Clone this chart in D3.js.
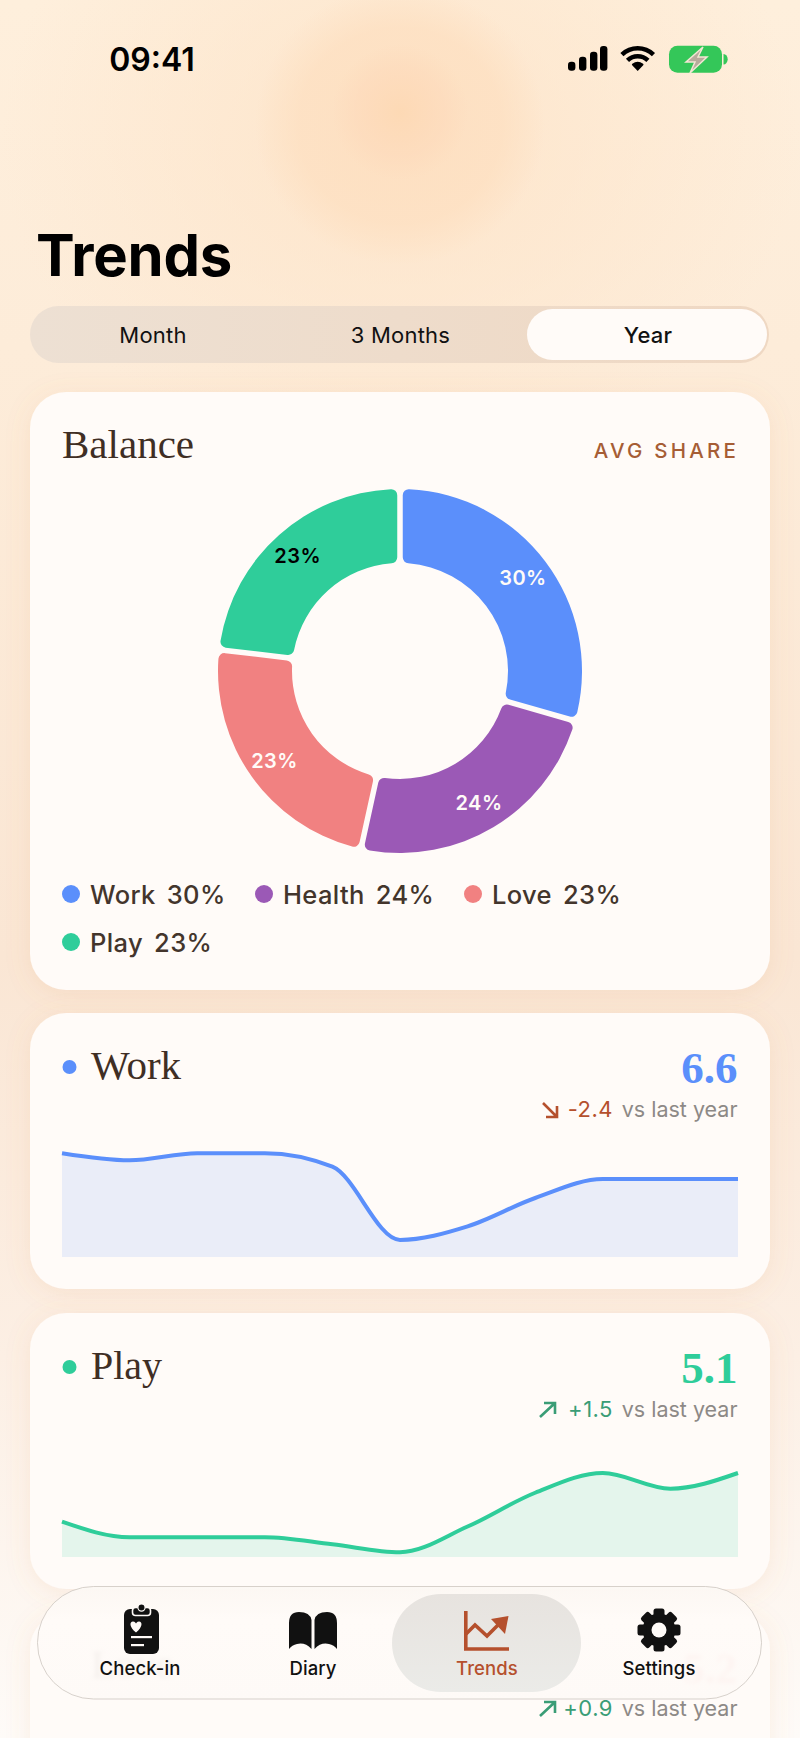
<!DOCTYPE html>
<html><head><meta charset="utf-8">
<script src="https://cdn.jsdelivr.net/npm/d3@7/dist/d3.min.js"></script>
<style>
html,body{margin:0;padding:0;background:#fdf3e8;overflow:hidden}
svg{display:block}
text{font-family:Inter,"Noto Sans",sans-serif}
.serif{font-family:"Liberation Serif",serif}
</style></head><body>
<svg id="app" width="800" height="1738" viewBox="0 0 800 1738"></svg>
<script>
// ---------- data ----------
const shareCategories = ["Work","Health","Love","Play"];
const shareValues = [29.5,24,23.4,23.1];
const shareLabels = ["30%","24%","23%","23%"];
const shareColors = ["#5b8ffb","#9b59b6","#f18181","#2fcd9a"];
const shareLabelColors = ["#fffbf8","#fffbf8","#fffbf8","#000000"];
const rangeTabs = ["Month","3 Months","Year"];
const navLabels = ["Check-in","Diary","Trends","Settings"];
const workSeries = [8.8,8.2,8.8,8.8,7.65,1.45,2.6,5.0,6.6,6.6,6.6];
const playSeries = [2.15,1.2,1.2,1.2,0.77,0.29,1.85,3.9,5.1,4.15,5.1];
const workValue = "6.6", workDelta = "-2.4";
const playValue = "5.1", playDelta = "+1.5";
const loveValue = "5.2", loveDelta = "+0.9";
const deltaSuffix = "vs last year";

const svg = d3.select("#app");
const defs = svg.append("defs");

// ---------- background ----------
const vg = defs.append("linearGradient").attr("id","bgV").attr("x1",0).attr("x2",0).attr("y1",0).attr("y2",1);
[[0,"#feefdc"],[.2,"#fdecd9"],[.55,"#fae6d4"],[.78,"#fcefe4"],[1,"#fefbf8"]].forEach(d=>vg.append("stop").attr("offset",d[0]).attr("stop-color",d[1]));
svg.append("rect").attr("width",800).attr("height",1738).attr("fill","url(#bgV)");
function blob(id,stops,cx,cy,rx,ry){
  const g = defs.append("radialGradient").attr("id",id);
  stops.forEach(d=>g.append("stop").attr("offset",d[0]).attr("stop-color",d[1]).attr("stop-opacity",d[2]));
  svg.append("ellipse").attr("cx",cx).attr("cy",cy).attr("rx",rx).attr("ry",ry).attr("fill",`url(#${id})`);
}
blob("blobWide",[[0,"#fde4c9",.9],[1,"#fde4c9",0]],400,140,400,330);
blob("blobMid",[[0,"#fddfc0",.85],[.7,"#fddfc0",.7],[1,"#fddfc0",0]],400,125,145,140);
blob("blobCore",[[0,"#fdd9b4",.95],[.65,"#fddabb",.6],[1,"#fddabb",0]],400,112,68,68);

const shadow = defs.append("filter").attr("id","cardShadow").attr("x","-10%").attr("y","-10%").attr("width","120%").attr("height","120%");
shadow.append("feDropShadow").attr("dx",0).attr("dy",4).attr("stdDeviation",12).attr("flood-color","#d9905a").attr("flood-opacity",.13);
const blur = defs.append("filter").attr("id","ghost").attr("x","-20%").attr("y","-20%").attr("width","140%").attr("height","140%");
blur.append("feGaussianBlur").attr("stdDeviation",2.2);

// ---------- status bar ----------
const status = svg.append("g");
status.append("text").attr("x",152).attr("y",71).attr("text-anchor","middle").attr("font-size",32).attr("font-weight",600).attr("fill","#000").text("09:41");
[[568,61.7],[579,56.7],[590,51.7],[600,46]].forEach(d=>status.append("rect").attr("x",d[0]).attr("y",d[1]).attr("width",7.4).attr("height",70.7-d[1]).attr("rx",3.2).attr("fill","#000"));
const wifi = d3.arc().startAngle(-Math.PI/4.1).endAngle(Math.PI/4.1);
[[12.5,17],[20.5,25]].forEach(r=>status.append("path").attr("transform","translate(637.7,71)").attr("d",wifi({innerRadius:r[0],outerRadius:r[1]})).attr("fill","#000"));
status.append("path").attr("transform","translate(637.7,71)").attr("d",d3.arc().startAngle(-Math.PI/4.1).endAngle(Math.PI/4.1).cornerRadius(1)({innerRadius:0,outerRadius:9})).attr("fill","#000");
status.append("rect").attr("x",669).attr("y",45.7).attr("width",53).attr("height",27).attr("rx",8.5).attr("fill","#34c759");
status.append("path").attr("d","M723.5 54 a4 5 0 0 1 0 10.5z").attr("fill","#34c759");
status.append("path").attr("d","M703 47 L686 62 L695 62 L690 73 L707 57 L698 57 Z").attr("fill","#b8ab9c").attr("stroke","#f3e6d4").attr("stroke-width",1.5);

// ---------- title and tabs ----------
svg.append("text").attr("x",36).attr("y",276).attr("font-size",58).attr("font-weight",700).attr("letter-spacing",-.2).attr("fill","#000").text("Trends");
const tabsG = defs.append("linearGradient").attr("id","tabs");
tabsG.append("stop").attr("offset",0).attr("stop-color","#ede0d3");
tabsG.append("stop").attr("offset",1).attr("stop-color","#efd8c3");
svg.append("rect").attr("x",30).attr("y",306).attr("width",739).attr("height",57).attr("rx",28.5).attr("fill","url(#tabs)");
svg.append("rect").attr("x",527).attr("y",309).attr("width",240).attr("height",51).attr("rx",25.5).attr("fill","#fffbf8");
const tabCx = d3.scalePoint().domain(rangeTabs).range([153,648]);
svg.selectAll(".tab").data(rangeTabs).join("text").attr("class","tab").attr("x",d=>tabCx(d)).attr("y",343).attr("text-anchor","middle").attr("font-size",22).attr("font-weight",d=>d==="Year"?500:400).attr("letter-spacing",.2).attr("fill","#111").text(d=>d);

// ---------- cards ----------
const cardTops = [[392,598],[1013,276],[1313,276],[1613,276]];
svg.selectAll(".card").data(cardTops).join("rect").attr("class","card").attr("x",30).attr("width",740).attr("y",d=>d[0]).attr("height",d=>d[1]).attr("rx",36).attr("fill","#fffbf8").attr("filter","url(#cardShadow)");

// ---------- balance ----------
svg.append("text").attr("class","serif").attr("x",62).attr("y",458).attr("font-size",41).attr("fill","#3f2e24").text("Balance");
svg.append("text").attr("x",739).attr("y",458).attr("text-anchor","end").attr("font-size",20.5).attr("font-weight",500).attr("letter-spacing",3.2).attr("fill","#a65d35").text("AVG SHARE");

const pie = d3.pie().sort(null).padAngle(.026)(shareValues);
const arc = d3.arc().innerRadius(108).outerRadius(182).cornerRadius(6);
const labelArc = d3.arc().innerRadius(154).outerRadius(154);
const donut = svg.append("g").attr("transform","translate(400,671)");
donut.selectAll("path").data(pie).join("path").attr("d",arc).attr("fill",(d,i)=>shareColors[i]);
donut.selectAll("text").data(pie).join("text").attr("transform",d=>`translate(${labelArc.centroid(d)})`).attr("dy","0.36em").attr("text-anchor","middle").attr("font-size",20).attr("font-weight",600).attr("letter-spacing",.5).attr("fill",(d,i)=>shareLabelColors[i]).text((d,i)=>shareLabels[i]);

const legendPos = [[71,894],[264,894],[473,894],[71,942]];
const legend = svg.selectAll(".lg").data(shareCategories).join("g").attr("class","lg").attr("transform",(d,i)=>`translate(${legendPos[i]})`);
legend.append("circle").attr("r",9).attr("fill",(d,i)=>shareColors[i]);
legend.append("text").attr("x",19).attr("y",9.5).attr("font-size",25.5).attr("font-weight",450).attr("word-spacing",4).attr("letter-spacing",.35).attr("fill","#43352c").text((d,i)=>`${d} ${shareLabels[i]}`);

// ---------- trend cards ----------
const x = d3.scaleLinear().domain([0,workSeries.length-1]).range([62,738]);
function trendCard(o){
  const g = svg.append("g");
  g.append("circle").attr("cx",69.5).attr("cy",o.top+54).attr("r",7).attr("fill",o.color);
  g.append("text").attr("class","serif").attr("x",91).attr("y",o.top+66).attr("font-size",o.titleSize).attr("fill","#3f2e24").text(o.name);
  g.append("text").attr("class","serif").attr("x",737.5).attr("y",o.top+70).attr("text-anchor","end").attr("font-size",45).attr("font-weight",700).attr("fill",o.color).text(o.value);
  deltaRow(g,o.top,o.delta,o.deltaColor,o.up);
  const yScale = d3.scaleLinear().domain(o.domain).range([o.top+244,o.top+244-o.h]);
  const area = d3.area().x((d,i)=>x(i)).y0(yScale(0)).y1(d=>yScale(d)).curve(d3.curveMonotoneX);
  const line = d3.line().x((d,i)=>x(i)).y(d=>yScale(d)).curve(d3.curveMonotoneX);
  g.append("path").attr("d",area(o.series)).attr("fill",o.color).attr("fill-opacity",.13);
  g.append("path").attr("d",line(o.series)).attr("fill","none").attr("stroke",o.color).attr("stroke-width",4);
}
function deltaRow(g,top,delta,color,up){
  const b = top+104;
  g.append("text").attr("x",737.5).attr("y",b).attr("text-anchor","end").attr("font-size",21.5).attr("fill","#8d8986").text(deltaSuffix);
  g.append("text").attr("x",613).attr("y",b).attr("text-anchor","end").attr("font-size",22).attr("letter-spacing",.5).attr("fill",color).text(delta);
  const a = up ? `M540 ${b} L555 ${b-14} M544 ${b-14} L555 ${b-14} L555 ${b-3}`
               : `M543 ${b-14} L557 ${b} M546 ${b} L557 ${b} L557 ${b-11}`;
  g.append("path").attr("d",a).attr("fill","none").attr("stroke",color).attr("stroke-width",2.6);
}
trendCard({top:1013,name:"Work",titleSize:41,color:"#5b8ffb",value:workValue,delta:workDelta,deltaColor:"#b5502d",up:false,series:workSeries,domain:[0,10],h:118});
trendCard({top:1313,name:"Play",titleSize:40,color:"#2fcd9a",value:playValue,delta:playDelta,deltaColor:"#3a9d76",up:true,series:playSeries,domain:[0,5.1],h:84});

// third card, mostly under the navigation bar
const third = svg.append("g");
third.append("text").attr("class","serif").attr("x",91).attr("y",1678).attr("font-size",40).attr("fill","#3f2e24").text("Love");
third.append("text").attr("class","serif").attr("x",737).attr("y",1683).attr("text-anchor","end").attr("font-size",43).attr("font-weight",700).attr("fill","#f18181").text(loveValue);
third.attr("filter","url(#ghost)");

// ---------- navigation bar ----------
const nav = svg.append("g");
const navBg = defs.append("linearGradient").attr("id","navBg").attr("x1",0).attr("x2",0).attr("y1",0).attr("y2",1);
navBg.append("stop").attr("offset",0).attr("stop-color","#fcf8f4").attr("stop-opacity",.95);
navBg.append("stop").attr("offset",.3).attr("stop-color","#fffbf8").attr("stop-opacity",.95);
navBg.append("stop").attr("offset",1).attr("stop-color","#fefaf7").attr("stop-opacity",.95);
nav.append("rect").attr("x",37.5).attr("y",1586.5).attr("width",724).attr("height",112.5).attr("rx",56).attr("fill","url(#navBg)").attr("stroke","#c9c3bc").attr("stroke-opacity",.75).attr("stroke-width",1);
const hiG = defs.append("linearGradient").attr("id","hi").attr("x1",0).attr("x2",0).attr("y1",0).attr("y2",1);
hiG.append("stop").attr("offset",0).attr("stop-color","#e7e3df");
hiG.append("stop").attr("offset",1).attr("stop-color","#ebebe8");
nav.append("rect").attr("x",392).attr("y",1594).attr("width",189).attr("height",98).attr("rx",49).attr("fill","url(#hi)");
const navCx = [140,313,487,659];
nav.selectAll(".nl").data(navLabels).join("text").attr("class","nl").attr("x",(d,i)=>navCx[i]).attr("y",1675).attr("text-anchor","middle").attr("font-size",18.5).attr("font-weight",d=>d==="Trends"?500:450).attr("letter-spacing",.1).attr("fill",d=>d==="Trends"?"#b5502d":"#111").text(d=>d);

// icons
const ink = "#111";
const clip = nav.append("g");
clip.append("rect").attr("x",124).attr("y",1609).attr("width",35).attr("height",45).attr("rx",6).attr("fill",ink);
clip.append("rect").attr("x",132.5).attr("y",1607.5).attr("width",18).attr("height",8).attr("rx",3).attr("fill",ink).attr("stroke","#fffbf8").attr("stroke-width",1.6);
clip.append("circle").attr("cx",141.5).attr("cy",1607.5).attr("r",3.6).attr("fill",ink).attr("stroke","#fffbf8").attr("stroke-width",1.2);
clip.append("path").attr("d","M136 1632.5 C129 1627 129.5 1621.5 133 1621.5 C135 1621.5 136 1623.5 136 1623.5 C136 1623.5 137 1621.5 139 1621.5 C142.5 1621.5 143 1627 136 1632.5 Z").attr("fill","#fffbf8");
clip.append("rect").attr("x",131).attr("y",1636).attr("width",21).attr("height",2.2).attr("fill","#fffbf8");
clip.append("rect").attr("x",131).attr("y",1644).attr("width",13).attr("height",2.2).attr("fill","#fffbf8");
nav.append("path").attr("d","M289 1623 Q289 1612 299 1612 Q310 1612 311.5 1620 L311.5 1649 Q305 1642 297 1644 Q292 1645 289 1649 Z M337 1623 Q337 1612 327 1612 Q316 1612 314.5 1620 L314.5 1649 Q321 1642 329 1644 Q334 1645 337 1649 Z").attr("fill",ink);
const trendIc = nav.append("g").attr("fill","none").attr("stroke","#b5502d").attr("stroke-width",3.6);
trendIc.append("path").attr("d","M465.8 1611 L465.8 1649 L509 1649");
trendIc.append("path").attr("d","M466 1634 L475 1625 L487 1636 L499 1624");
nav.append("path").attr("d","M491 1619 L508.5 1616 L505 1634 Z").attr("fill","#b5502d");
const gear = d3.range(8).map(i=>i*45);
const gearG = nav.append("g").attr("transform","translate(659,1630)");
gearG.append("circle").attr("r",16.5).attr("fill",ink);
gearG.selectAll("rect").data(gear).join("rect").attr("x",-5.5).attr("y",-21.5).attr("width",11).attr("height",9).attr("rx",2.5).attr("transform",d=>`rotate(${d})`).attr("fill",ink);
gearG.append("circle").attr("r",7.5).attr("fill","#fffbf8");

// delta row of the third card sits just below the bar
deltaRow(svg.append("g"),1612,loveDelta,"#3a9d76",true);
</script>
</body></html>
